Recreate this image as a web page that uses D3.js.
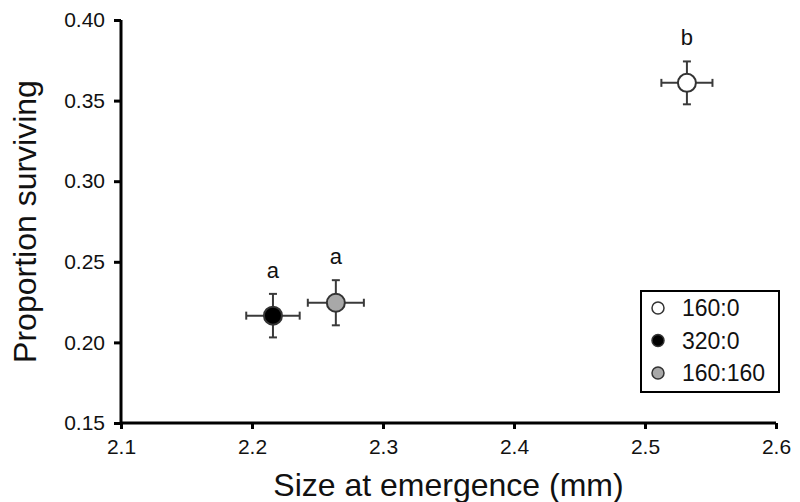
<!DOCTYPE html>
<html>
<head>
<meta charset="utf-8">
<script src="https://cdnjs.cloudflare.com/ajax/libs/d3/7.8.5/d3.min.js"></script>
<style>
  body { margin: 0; background: #fff; }
  svg text { font-family: "Liberation Sans", Arial, Helvetica, sans-serif; fill: #111; }
</style>
</head>
<body>
<div id="chart"></div>
<script>
// data
var groups = ["160:0", "320:0", "160:160"];
var sizeMean = [2.532, 2.216, 2.264];
var sizeErr = [0.0195, 0.0204, 0.0214];
var survMean = [0.361, 0.2166, 0.2246];
var survErr = [0.0133, 0.0135, 0.014];
var letters = ["b", "a", "a"];
var fills = ["#ffffff", "#000000", "#a8a8a8"];
var xTicks = [2.1, 2.2, 2.3, 2.4, 2.5, 2.6];
var yTicks = [0.15, 0.20, 0.25, 0.30, 0.35, 0.40];

var points = groups.map(function (g, i) {
    return {group: g, x: sizeMean[i], xe: sizeErr[i], y: survMean[i], ye: survErr[i],
        letter: letters[i], fill: fills[i]};
});

var width = 800, height = 502;
var margin = {left: 121, right: 24, top: 20, bottom: 79};

var svg = d3.select("#chart").append("svg")
    .attr("width", width)
    .attr("height", height);

var x = d3.scaleLinear().domain([2.1, 2.6]).range([margin.left, width - margin.right]);
var y = d3.scaleLinear().domain([0.15, 0.40]).range([height - margin.bottom, margin.top]);

// axes
var xAxis = svg.append("g")
    .attr("transform", "translate(0," + y(0.15) + ")")
    .call(d3.axisBottom(x).tickValues(xTicks).tickFormat(d3.format(".1f")).tickSize(6).tickPadding(10));
var yAxis = svg.append("g")
    .attr("transform", "translate(" + x(2.1) + ",0)")
    .call(d3.axisLeft(y).tickValues(yTicks).tickFormat(d3.format(".2f")).tickSize(7).tickPadding(9));

[xAxis, yAxis].forEach(function (a) {
    a.select(".domain").attr("stroke", "#000").attr("stroke-width", 3)
        .attr("d", a === xAxis ? "M" + x(2.1) + ",0H" + x(2.6) : "M0," + y(0.40) + "V" + y(0.15));
    a.selectAll(".tick line").attr("stroke", "#000").attr("stroke-width", 3);
    a.selectAll(".tick text").style("font-size", "21px").attr("fill", "#111");
});

// axis titles
svg.append("text")
    .attr("x", (x(2.1) + x(2.6)) / 2)
    .attr("y", 496)
    .attr("text-anchor", "middle")
    .style("font-size", "32px")
    .text("Size at emergence (mm)");

svg.append("text")
    .attr("transform", "translate(36," + ((y(0.15) + y(0.40)) / 2) + ") rotate(-90)")
    .attr("text-anchor", "middle")
    .style("font-size", "32px")
    .text("Proportion surviving");

// error bars
var cap = 4;
var bars = svg.append("g").attr("stroke", "#3a3a3a").attr("stroke-width", 2);
points.forEach(function (d) {
    var g = bars.append("g");
    g.append("line").attr("x1", x(d.x - d.xe)).attr("x2", x(d.x + d.xe)).attr("y1", y(d.y)).attr("y2", y(d.y));
    g.append("line").attr("x1", x(d.x)).attr("x2", x(d.x)).attr("y1", y(d.y - d.ye)).attr("y2", y(d.y + d.ye));
    g.append("line").attr("x1", x(d.x - d.xe)).attr("x2", x(d.x - d.xe)).attr("y1", y(d.y) - cap).attr("y2", y(d.y) + cap);
    g.append("line").attr("x1", x(d.x + d.xe)).attr("x2", x(d.x + d.xe)).attr("y1", y(d.y) - cap).attr("y2", y(d.y) + cap);
    g.append("line").attr("x1", x(d.x) - cap).attr("x2", x(d.x) + cap).attr("y1", y(d.y + d.ye)).attr("y2", y(d.y + d.ye));
    g.append("line").attr("x1", x(d.x) - cap).attr("x2", x(d.x) + cap).attr("y1", y(d.y - d.ye)).attr("y2", y(d.y - d.ye));
});

// points
svg.selectAll("circle.pt")
    .data(points)
    .enter()
    .append("circle")
    .attr("class", "pt")
    .attr("cx", function (d) { return x(d.x); })
    .attr("cy", function (d) { return y(d.y); })
    .attr("r", 9)
    .style("fill", function (d) { return d.fill; })
    .style("stroke", "#333")
    .style("stroke-width", 2);

// significance letters
svg.selectAll("text.letter")
    .data(points)
    .enter()
    .append("text")
    .attr("class", "letter")
    .attr("x", function (d) { return x(d.x); })
    .attr("y", function (d) { return y(d.y + d.ye) - 16; })
    .attr("text-anchor", "middle")
    .style("font-size", "22px")
    .text(function (d) { return d.letter; });

// legend
var legend = svg.append("g").attr("transform", "translate(641,291)");
legend.append("rect")
    .attr("width", 138)
    .attr("height", 101)
    .style("fill", "#fff")
    .style("stroke", "#000")
    .style("stroke-width", 2);

var items = legend.selectAll("g.item")
    .data(points)
    .enter()
    .append("g")
    .attr("class", "item")
    .attr("transform", function (d, i) { return "translate(0," + (17 + i * 32.5) + ")"; });
items.append("circle")
    .attr("cx", 17)
    .attr("r", 6)
    .style("fill", function (d) { return d.fill; })
    .style("stroke", "#333")
    .style("stroke-width", 1.5);
items.append("text")
    .attr("x", 41)
    .attr("dy", "0.35em")
    .style("font-size", "23px")
    .text(function (d) { return d.group; });
</script>
</body>
</html>
